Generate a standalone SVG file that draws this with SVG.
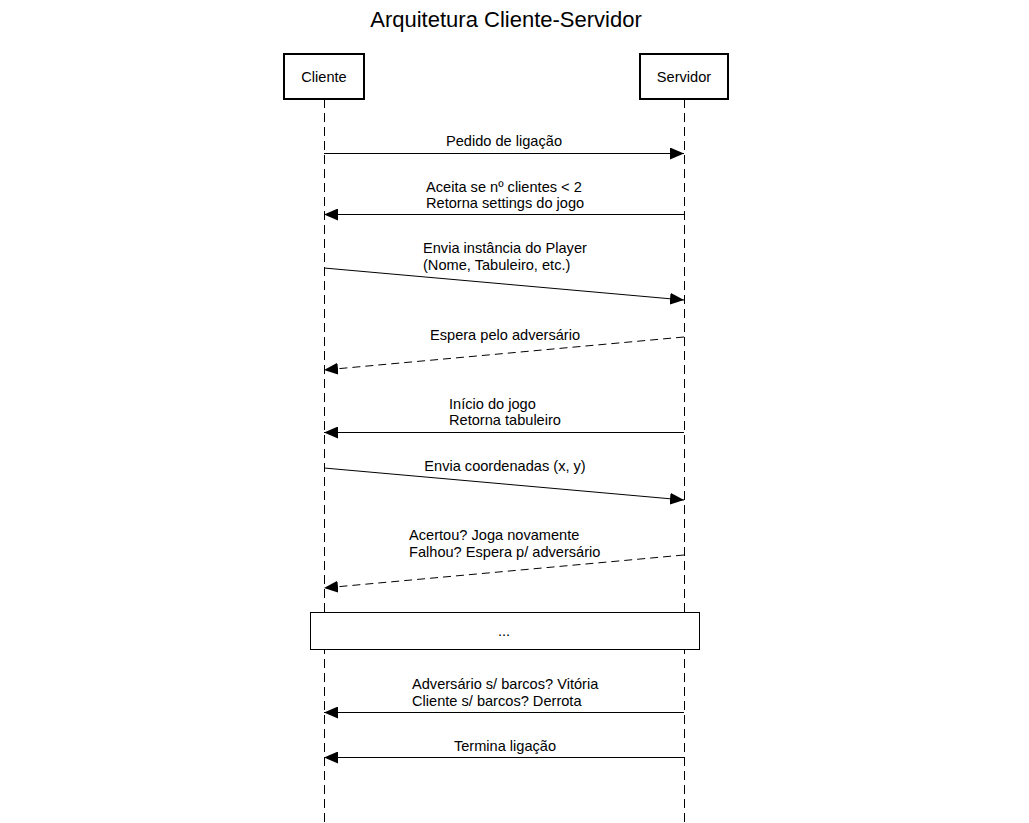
<svg xmlns="http://www.w3.org/2000/svg" width="1029" height="823" viewBox="0 0 1029 823">
<style>
text{font-family:"Liberation Sans",Arial,sans-serif;font-size:14.6px;fill:#000}
.title{font-size:22px}
.box{fill:#fff;stroke:#000;stroke-width:2}
.life{stroke:#000;stroke-width:1;stroke-dasharray:9,5;fill:none}
.msg{stroke:#000;stroke-width:1;fill:none;marker-end:url(#arr)}
.dash{stroke-dasharray:8,5}
</style>
<defs>
<marker id="arr" markerWidth="14" markerHeight="12" refX="14" refY="6" orient="auto" markerUnits="userSpaceOnUse">
<path d="M0,0 L14,6 L0,12 Z" fill="#000"/>
</marker>
</defs>
<rect width="1029" height="823" fill="#fff"/>
<text class="title" x="506" y="27" text-anchor="middle">Arquitetura Cliente-Servidor</text>
<g id="lifelines">
<line class="life" x1="324.5" y1="99" x2="324.5" y2="823"/>
<line class="life" x1="684.5" y1="99" x2="684.5" y2="823"/>
</g>
<g id="cliente">
<rect class="box" x="284" y="54" width="80" height="45"/>
<text x="324" y="82" text-anchor="middle">Cliente</text>
</g>
<g id="servidor">
<rect class="box" x="640" y="54" width="88" height="45"/>
<text x="684" y="82" text-anchor="middle">Servidor</text>
</g>
<g id="connectors">
<line class="msg" x1="324" y1="153.5" x2="684" y2="153.5"/>
<line class="msg" x1="684" y1="214.5" x2="324" y2="214.5"/>
<line class="msg" x1="324" y1="268" x2="684" y2="300"/>
<line class="msg dash" x1="684" y1="337" x2="324" y2="370"/>
<line class="msg" x1="684" y1="432.5" x2="324" y2="432.5"/>
<line class="msg" x1="324" y1="468" x2="684" y2="500"/>
<line class="msg dash" x1="684" y1="555" x2="324" y2="588"/>
<line class="msg" x1="684" y1="712.5" x2="324" y2="712.5"/>
<line class="msg" x1="684" y1="757.5" x2="324" y2="757.5"/>
</g>
<g id="labels">
<text x="504" y="146" text-anchor="middle">Pedido de ligação</text>
<text x="426" y="192">Aceita se nº clientes &lt; 2</text>
<text x="426" y="208">Retorna settings do jogo</text>
<text x="423" y="253">Envia instância do Player</text>
<text x="423" y="270">(Nome, Tabuleiro, etc.)</text>
<text x="430" y="340">Espera pelo adversário</text>
<text x="449" y="409">Início do jogo</text>
<text x="449" y="425">Retorna tabuleiro</text>
<text x="505" y="471" text-anchor="middle">Envia coordenadas (x, y)</text>
<text x="409" y="540">Acertou? Joga novamente</text>
<text x="409" y="557">Falhou? Espera p/ adversário</text>
<text x="412" y="689">Adversário s/ barcos? Vitória</text>
<text x="412" y="706">Cliente s/ barcos? Derrota</text>
<text x="505" y="751" text-anchor="middle">Termina ligação</text>
</g>
<g id="frag">
<rect x="310.5" y="612.5" width="389" height="37" fill="#fff" stroke="#000" stroke-width="1"/>
<text x="504" y="636" text-anchor="middle">...</text>
</g>
</svg>
